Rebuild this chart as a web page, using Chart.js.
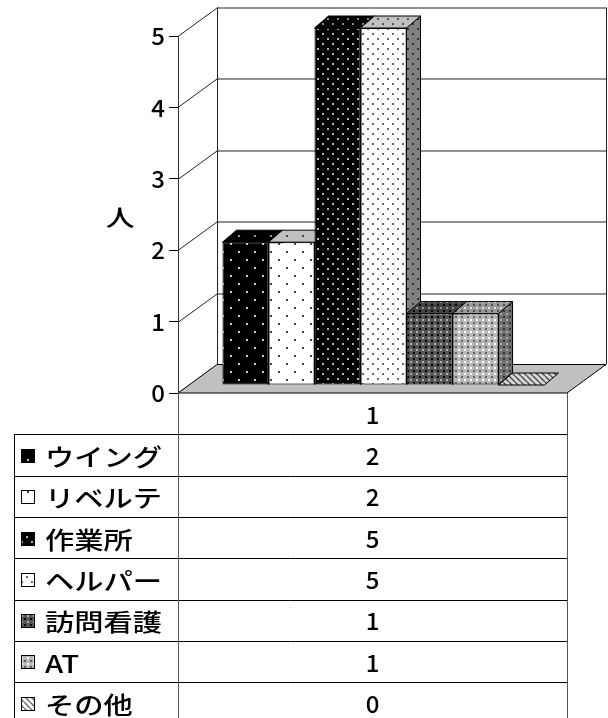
<!DOCTYPE html>
<html>
<head>
<meta charset="utf-8">
<script src="https://cdn.jsdelivr.net/npm/chart.js"></script>
<style>
  html, body { margin: 0; padding: 0; background: #fff; }
  canvas { display: block; }
</style>
</head>
<body>
<canvas id="chart" width="608" height="718"></canvas>
<script>
// Data
const categories = ['1'];
const seriesNames = ['ウイング', 'リベルテ', '作業所', 'ヘルパー', '訪問看護', 'AT', 'その他'];
const seriesValues = [2, 2, 5, 5, 1, 1, 0];
const yTicks = [0, 1, 2, 3, 4, 5];
const yTitle = '人';

const FONT = '"Noto Sans CJK JP", "Noto Sans", sans-serif';
const WEIGHT = '500';
const WALL = { dx: 39, dy: -28.5 };     // back wall offset from the front plane
const BAR_PLANE = { dx: 11, dy: -8 };   // where the bar fronts sit inside the box
const BAR_DEPTH = { dx: 14, dy: -12 };  // bar thickness
const ROW_H = 41.3;                      // data table row height
const TABLE_LEFT = 14;

const canvas = document.getElementById('chart');
const ctx = canvas.getContext('2d');

// Fill patterns
function makePattern(w, h, bg, paint) {
  const c = document.createElement('canvas');
  c.width = w;
  c.height = h;
  const g = c.getContext('2d');
  g.fillStyle = bg;
  g.fillRect(0, 0, w, h);
  paint(g);
  return ctx.createPattern(c, 'repeat');
}

const sparseDots = (bg, fg) => makePattern(16, 16, bg, g => {
  g.fillStyle = fg;
  g.fillRect(3, 3, 2, 2);
  g.fillRect(11, 11, 2, 2);
});

const denseDots = (bg, fg) => makePattern(10, 10, bg, g => {
  g.fillStyle = fg;
  g.fillRect(1, 1, 2, 2);
  g.fillRect(6, 6, 2, 2);
});

const lattice = (bg, dark, light) => makePattern(6, 6, bg, g => {
  g.fillStyle = dark;
  g.fillRect(0, 0, 2, 2);
  g.fillStyle = light;
  g.fillRect(3, 3, 2, 2);
});

const hatch = (bg, fg) => makePattern(6, 6, bg, g => {
  g.strokeStyle = fg;
  g.lineWidth = 1.5;
  g.beginPath();
  [-6, 0, 6].forEach(k => { g.moveTo(k, 0); g.lineTo(k + 6, 6); });
  g.stroke();
});

// front / top / side fills for each series
const styles = [
  { front: sparseDots('#000', '#c8c8c8'), top: sparseDots('#000', '#999'), side: sparseDots('#000', '#999') },
  { front: sparseDots('#fff', '#444'), top: sparseDots('#c0c0c0', '#444'), side: sparseDots('#808080', '#333') },
  { front: denseDots('#000', '#b4b4b4'), top: denseDots('#000', '#888'), side: denseDots('#000', '#888') },
  { front: denseDots('#fff', '#6a6a6a'), top: denseDots('#c0c0c0', '#555'), side: denseDots('#808080', '#333') },
  { front: lattice('#555', '#000', '#b0b0b0'), top: lattice('#444', '#000', '#909090'), side: lattice('#333', '#000', '#777') },
  { front: lattice('#b8b8b8', '#606060', '#fff'), top: lattice('#999', '#505050', '#ddd'), side: lattice('#707070', '#333', '#aaa') },
  { front: hatch('#fff', '#707070'), top: hatch('#d8d8d8', '#505050'), side: hatch('#909090', '#333') }
];

function poly(c, pts, fill) {
  c.beginPath();
  pts.forEach(([x, y], i) => (i ? c.lineTo(x, y) : c.moveTo(x, y)));
  c.closePath();
  c.fillStyle = fill;
  c.fill();
  c.stroke();
}

function wideText(c, text, x, y, sx) {
  c.save();
  c.translate(x, y);
  c.scale(sx, 1);
  c.fillText(text, 0, 0);
  c.restore();
}

function hline(c, x1, x2, y) {
  const yy = Math.round(y) + 0.5;
  c.beginPath();
  c.moveTo(x1, yy);
  c.lineTo(x2, yy);
  c.stroke();
}

function vline(c, x, y1, y2) {
  const xx = Math.round(x) + 0.5;
  c.beginPath();
  c.moveTo(xx, y1);
  c.lineTo(xx, y2);
  c.stroke();
}

// Walls, floor, 3D bar faces and the data table
const box3d = {
  id: 'box3d',
  beforeDraw(chart) {
    const { ctx: c, chartArea: { left, right, top, bottom }, scales: { y } } = chart;
    const bl = left + WALL.dx, br = right + WALL.dx;
    c.save();
    c.lineWidth = 1;
    c.strokeStyle = '#222';
    yTicks.forEach(v => {
      const py = Math.round(y.getPixelForValue(v)) + 0.5;
      c.beginPath();
      c.moveTo(left, py);
      c.lineTo(bl, py + WALL.dy);
      c.lineTo(br, py + WALL.dy);
      c.stroke();
    });
    vline(c, bl, top + WALL.dy, bottom + WALL.dy);
    vline(c, br, top + WALL.dy, bottom + WALL.dy);

    c.strokeStyle = '#000';
    poly(c, [[left, bottom], [bl, bottom + WALL.dy], [br, bottom + WALL.dy], [right, bottom]], '#c0c0c0');
    c.restore();
  },
  beforeDatasetsDraw(chart) {
    const c = chart.ctx;
    const { dx, dy } = BAR_DEPTH;
    c.save();
    c.translate(BAR_PLANE.dx, BAR_PLANE.dy);
    c.lineWidth = 1;
    c.strokeStyle = '#000';
    chart.data.datasets.forEach((ds, i) => {
      const bar = chart.getDatasetMeta(i).data[0];
      const l = bar.x - bar.width / 2;
      const r = bar.x + bar.width / 2;
      const t = Math.min(bar.y, bar.base);
      const b = Math.max(bar.y, bar.base);
      if (b - t > 0.5) poly(c, [[r, t], [r + dx, t + dy], [r + dx, b + dy], [r, b]], styles[i].side);
      poly(c, [[l, t], [l + dx, t + dy], [r + dx, t + dy], [r, t]], styles[i].top);
    });
  },
  afterDatasetsDraw(chart) {
    chart.ctx.restore();
  },
  afterDraw(chart) {
    const { ctx: c, chartArea: { left, right, top, bottom } } = chart;
    const headerBottom = bottom + ROW_H;
    const tableBottom = chart.height + 5;
    const mid = (left + right) / 2;
    c.save();

    // axis title
    c.fillStyle = '#000';
    c.font = WEIGHT + ' 23px ' + FONT;
    c.textAlign = 'center';
    c.textBaseline = 'middle';
    wideText(c, yTitle, left - 58, (top + bottom) / 2 + 3, 1.25);

    // grid of the table
    c.lineWidth = 1;
    c.strokeStyle = '#000';
    for (let i = 0; i <= seriesNames.length; i++) {
      hline(c, TABLE_LEFT, right, headerBottom + i * ROW_H);
    }
    vline(c, TABLE_LEFT, headerBottom, tableBottom);
    c.strokeStyle = '#555';
    vline(c, left, bottom, tableBottom);
    vline(c, right, bottom, tableBottom);

    // header cell
    c.font = WEIGHT + ' 24px ' + FONT;
    c.textAlign = 'center';
    c.fillText(categories[0], mid, bottom + ROW_H / 2 + 1);

    // one row per series
    seriesNames.forEach((name, i) => {
      const cy = headerBottom + i * ROW_H + ROW_H / 2;
      c.strokeStyle = '#000';
      c.fillStyle = styles[i].front;
      c.fillRect(21, Math.round(cy) - 6, 14, 14);
      c.strokeRect(21.5, Math.round(cy) - 5.5, 13, 13);

      c.fillStyle = '#000';
      c.textAlign = 'left';
      c.font = WEIGHT + ' 24px ' + FONT;
      wideText(c, name, 45, cy + 2, 1.22);

      c.textAlign = 'center';
      c.font = WEIGHT + ' 24px ' + FONT;
      c.fillText(String(seriesValues[i]), mid, cy + 1);
    });
    c.restore();
  }
};

new Chart(ctx, {
  type: 'bar',
  data: {
    labels: categories,
    datasets: seriesNames.map((name, i) => ({
      label: name,
      data: [seriesValues[i]],
      backgroundColor: styles[i].front,
      borderColor: '#000',
      borderWidth: 1,
      borderSkipped: false,
      categoryPercentage: 0.828,
      barPercentage: 1,
      clip: false
    }))
  },
  options: {
    responsive: false,
    animation: false,
    devicePixelRatio: 1,
    layout: { padding: { top: 36, right: 41, bottom: 325, left: 0 } },
    plugins: { legend: { display: false }, tooltip: { enabled: false } },
    scales: {
      x: { display: false },
      y: {
        min: 0,
        max: 5,
        afterBuildTicks: s => { s.ticks = yTicks.map(v => ({ value: v })); },
        afterFit: s => { s.width = 178; },
        grid: { drawOnChartArea: false, drawTicks: true, tickLength: 9, color: '#000' },
        border: { display: true, color: '#333', width: 1 },
        ticks: { color: '#000', font: { family: FONT, size: 24, weight: WEIGHT }, padding: 4 }
      }
    }
  },
  plugins: [box3d]
});
</script>
</body>
</html>
